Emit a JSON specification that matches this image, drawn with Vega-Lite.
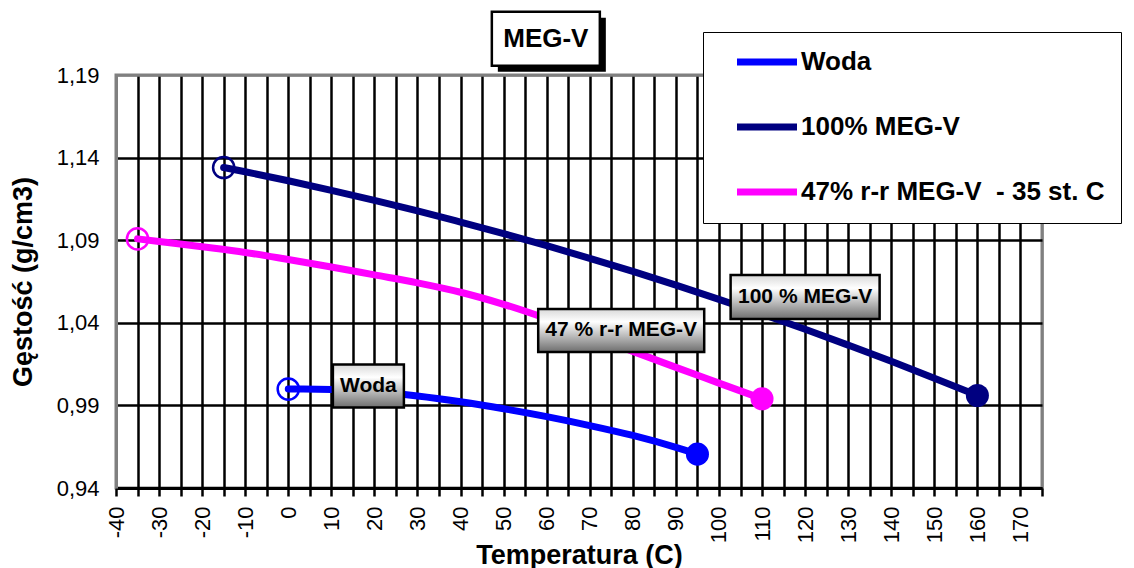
{
  "$schema": "https://vega.github.io/schema/vega-lite/v6.json",
  "width": 926,
  "height": 413,
  "autosize": {"type": "none"},
  "padding": {"left": 116, "top": 75, "right": 92, "bottom": 80},
  "background": "white",
  "config": {
    "font": "Liberation Sans",
    "view": {"stroke": "#808080", "strokeWidth": 3},
    "axis": {"labelColor": "black", "titleColor": "black", "labelFont": "Liberation Sans", "titleFont": "Liberation Sans"},
    "legend": {"labelFont": "Liberation Sans", "labelColor": "black"}
  },
  "datasets": {
    "series": [
      {"series": "Woda", "temp": 0, "density": 0.9999},
      {"series": "Woda", "temp": 10, "density": 0.9997},
      {"series": "Woda", "temp": 20, "density": 0.9982},
      {"series": "Woda", "temp": 30, "density": 0.9957},
      {"series": "Woda", "temp": 40, "density": 0.9922},
      {"series": "Woda", "temp": 50, "density": 0.988},
      {"series": "Woda", "temp": 60, "density": 0.9832},
      {"series": "Woda", "temp": 70, "density": 0.9778},
      {"series": "Woda", "temp": 80, "density": 0.9718},
      {"series": "Woda", "temp": 90, "density": 0.9646},
      {"series": "Woda", "temp": 95, "density": 0.9605},
      {"series": "100% MEG-V", "temp": -15, "density": 1.134},
      {"series": "100% MEG-V", "temp": -10, "density": 1.1314},
      {"series": "100% MEG-V", "temp": 0, "density": 1.126},
      {"series": "100% MEG-V", "temp": 10, "density": 1.1202},
      {"series": "100% MEG-V", "temp": 20, "density": 1.1141},
      {"series": "100% MEG-V", "temp": 30, "density": 1.1078},
      {"series": "100% MEG-V", "temp": 40, "density": 1.101},
      {"series": "100% MEG-V", "temp": 50, "density": 1.094},
      {"series": "100% MEG-V", "temp": 60, "density": 1.0867},
      {"series": "100% MEG-V", "temp": 70, "density": 1.079},
      {"series": "100% MEG-V", "temp": 80, "density": 1.0711},
      {"series": "100% MEG-V", "temp": 90, "density": 1.0628},
      {"series": "100% MEG-V", "temp": 100, "density": 1.0542},
      {"series": "100% MEG-V", "temp": 110, "density": 1.0453},
      {"series": "100% MEG-V", "temp": 120, "density": 1.0361},
      {"series": "100% MEG-V", "temp": 130, "density": 1.0265},
      {"series": "100% MEG-V", "temp": 140, "density": 1.0167},
      {"series": "100% MEG-V", "temp": 150, "density": 1.0065},
      {"series": "100% MEG-V", "temp": 160, "density": 0.996},
      {"series": "47% r-r MEG-V  - 35 st. C", "temp": -35, "density": 1.0908},
      {"series": "47% r-r MEG-V  - 35 st. C", "temp": -30, "density": 1.0892},
      {"series": "47% r-r MEG-V  - 35 st. C", "temp": -20, "density": 1.086},
      {"series": "47% r-r MEG-V  - 35 st. C", "temp": -10, "density": 1.0826},
      {"series": "47% r-r MEG-V  - 35 st. C", "temp": 0, "density": 1.0783},
      {"series": "47% r-r MEG-V  - 35 st. C", "temp": 10, "density": 1.0738},
      {"series": "47% r-r MEG-V  - 35 st. C", "temp": 20, "density": 1.069},
      {"series": "47% r-r MEG-V  - 35 st. C", "temp": 30, "density": 1.0642},
      {"series": "47% r-r MEG-V  - 35 st. C", "temp": 40, "density": 1.0585},
      {"series": "47% r-r MEG-V  - 35 st. C", "temp": 50, "density": 1.0512},
      {"series": "47% r-r MEG-V  - 35 st. C", "temp": 60, "density": 1.0425},
      {"series": "47% r-r MEG-V  - 35 st. C", "temp": 70, "density": 1.0327},
      {"series": "47% r-r MEG-V  - 35 st. C", "temp": 80, "density": 1.0227},
      {"series": "47% r-r MEG-V  - 35 st. C", "temp": 90, "density": 1.013},
      {"series": "47% r-r MEG-V  - 35 st. C", "temp": 100, "density": 1.0035},
      {"series": "47% r-r MEG-V  - 35 st. C", "temp": 110, "density": 0.994}
    ],
    "notes": [
      {"note": "Woda", "temp": 18.6, "density": 1.0018},
      {"note": "47 % r-r MEG-V", "temp": 77.3, "density": 1.0354},
      {"note": "100 % MEG-V", "temp": 120, "density": 1.0556},
      {"note": "MEG-V", "temp": 59.8, "density": 1.212}
    ]
  },
  "encoding": {
    "x": {
      "field": "temp",
      "type": "quantitative",
      "scale": {"domain": [-40, 175], "nice": false, "zero": false},
      "axis": {
        "title": "Temperatura (C)",
        "titleFontSize": 27,
        "titleFontWeight": "bold",
        "titleBaseline": "alphabetic",
        "titleY": 75,
        "values": [-40,-35,-30,-25,-20,-15,-10,-5,0,5,10,15,20,25,30,35,40,45,50,55,60,65,70,75,80,85,90,95,100,105,110,115,120,125,130,135,140,145,150,155,160,165,170,175],
        "labelExpr": "(datum.value % 10 == 0 && datum.value <= 170) ? ('' + datum.value) : ''",
        "labelAngle": 270,
        "labelFontSize": 22,
        "labelPadding": 10,
        "labelOverlap": false,
        "labelBound": false,
        "labelFlush": false,
        "grid": true,
        "gridColor": {"condition": {"test": "datum.value == -40 || datum.value == 175", "value": "#808080"}, "value": "black"},
        "gridWidth": 2.5,
        "gridOpacity": 1,
        "ticks": true,
        "tickSize": 8,
        "tickColor": "black",
        "tickWidth": 2.5,
        "domainColor": "black",
        "domainWidth": 3
      }
    },
    "y": {
      "field": "density",
      "type": "quantitative",
      "scale": {"domain": [0.94, 1.19], "nice": false, "zero": false},
      "axis": {
        "title": "Gęstość (g/cm3)",
        "titleFontSize": 27,
        "titleFontWeight": "bold",
        "titlePadding": 19,
        "values": [0.94, 0.99, 1.04, 1.09, 1.14, 1.19],
        "labelExpr": "replace(format(datum.value, '.2f'), '.', ',')",
        "labelFontSize": 22,
        "labelPadding": 17,
        "labelBound": false,
        "labelFlush": false,
        "grid": true,
        "gridColor": {"condition": {"test": "datum.value > 1.185", "value": "#808080"}, "value": "black"},
        "gridWidth": 2.5,
        "gridOpacity": 1,
        "ticks": false,
        "domainColor": "#808080",
        "domainWidth": 3
      }
    }
  },
  "layer": [
    {
      "data": {"name": "series"},
      "mark": {"type": "line", "strokeWidth": 7, "strokeCap": "round", "strokeJoin": "round", "interpolate": "monotone"},
      "encoding": {
        "color": {
          "field": "series",
          "type": "nominal",
          "scale": {"domain": ["Woda", "100% MEG-V", "47% r-r MEG-V  - 35 st. C"], "range": ["#0000FF", "#000080", "#FF00FF"]},
          "legend": {
            "title": null,
            "orient": "none",
            "legendX": 587,
            "legendY": -43,
            "symbolType": "M-3,0H3",
            "symbolSize": 400,
            "symbolStrokeWidth": 7,
            "labelFontSize": 26,
            "labelFontWeight": "bold",
            "labelLimit": 600,
            "labelOffset": 20.5,
            "labelExpr": "replace(datum.label, '  ', '\u00a0 ')",
            "symbolOffset": 34,
            "rowPadding": 36,
            "padding": 16.5,
            "strokeColor": "black",
            "fillColor": "white"
          }
        }
      }
    },
    {
      "data": {"name": "series"},
      "transform": [
        {"joinaggregate": [{"op": "min", "field": "temp", "as": "tmin"}], "groupby": ["series"]},
        {"filter": "datum.temp == datum.tmin"}
      ],
      "mark": {"type": "point", "shape": "circle", "filled": false, "size": 450, "strokeWidth": 2.5, "opacity": 1},
      "encoding": {
        "color": {"field": "series", "type": "nominal"}
      }
    },
    {
      "data": {"name": "series"},
      "transform": [
        {"joinaggregate": [{"op": "max", "field": "temp", "as": "tmax"}], "groupby": ["series"]},
        {"filter": "datum.temp == datum.tmax"}
      ],
      "mark": {"type": "point", "shape": "circle", "filled": true, "size": 530, "opacity": 1},
      "encoding": {
        "color": {"field": "series", "type": "nominal"}
      }
    },
    {
      "data": {"name": "notes"},
      "transform": [{"filter": "datum.note == 'Woda'"}],
      "mark": {"type": "rect", "width": 71, "height": 43, "stroke": "black", "strokeWidth": 2.5,
        "fill": {"gradient": "linear", "x1": 0, "y1": 0, "x2": 0, "y2": 1, "stops": [{"offset": 0, "color": "#d9d9d9"}, {"offset": 0.3, "color": "#ffffff"}, {"offset": 1, "color": "#6e6e6e"}]}}
    },
    {
      "data": {"name": "notes"},
      "transform": [{"filter": "datum.note == '47 % r-r MEG-V'"}],
      "mark": {"type": "rect", "width": 166, "height": 43, "stroke": "black", "strokeWidth": 2.5,
        "fill": {"gradient": "linear", "x1": 0, "y1": 0, "x2": 0, "y2": 1, "stops": [{"offset": 0, "color": "#d9d9d9"}, {"offset": 0.3, "color": "#ffffff"}, {"offset": 1, "color": "#6e6e6e"}]}}
    },
    {
      "data": {"name": "notes"},
      "transform": [{"filter": "datum.note == '100 % MEG-V'"}],
      "mark": {"type": "rect", "width": 149, "height": 44, "stroke": "black", "strokeWidth": 2.5,
        "fill": {"gradient": "linear", "x1": 0, "y1": 0, "x2": 0, "y2": 1, "stops": [{"offset": 0, "color": "#d9d9d9"}, {"offset": 0.3, "color": "#ffffff"}, {"offset": 1, "color": "#6e6e6e"}]}}
    },
    {
      "data": {"name": "notes"},
      "transform": [{"filter": "datum.note == 'MEG-V'"}],
      "mark": {"type": "rect", "width": 108, "height": 54, "fill": "black", "xOffset": 6, "yOffset": 6}
    },
    {
      "data": {"name": "notes"},
      "transform": [{"filter": "datum.note == 'MEG-V'"}],
      "mark": {"type": "rect", "width": 108, "height": 54, "fill": "white", "stroke": "black", "strokeWidth": 2.5}
    },
    {
      "data": {"name": "notes"},
      "transform": [{"filter": "datum.note != 'MEG-V'"}],
      "mark": {"type": "text", "font": "Liberation Sans", "fontSize": 21, "fontWeight": "bold", "align": "center", "baseline": "middle", "color": "black"},
      "encoding": {"text": {"field": "note"}}
    },
    {
      "data": {"name": "notes"},
      "transform": [{"filter": "datum.note == 'MEG-V'"}],
      "mark": {"type": "text", "font": "Liberation Sans", "fontSize": 26, "fontWeight": "bold", "align": "center", "baseline": "middle", "color": "black"},
      "encoding": {"text": {"field": "note"}}
    }
  ]
}
